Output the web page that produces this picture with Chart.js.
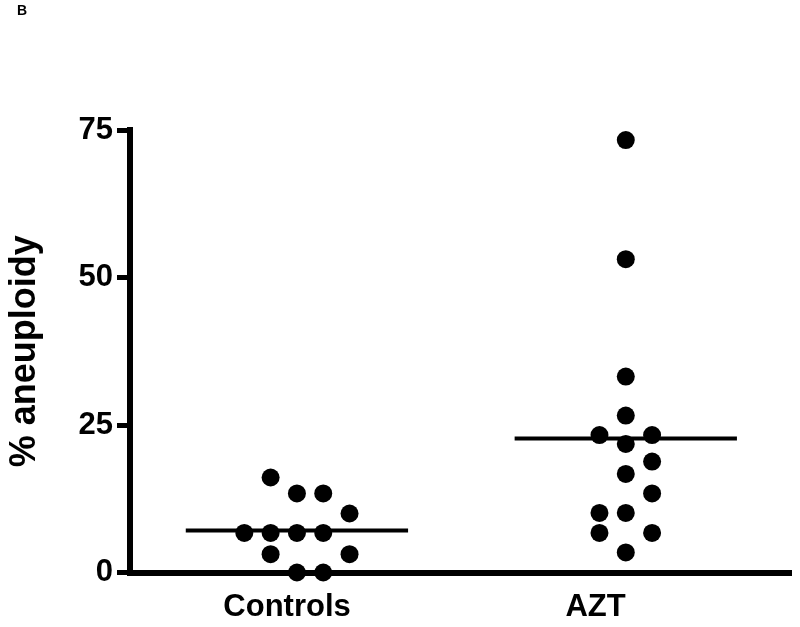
<!DOCTYPE html>
<html>
<head>
<meta charset="utf-8">
<script src="https://cdn.jsdelivr.net/npm/chart.js@4"></script>
<style>
  body { margin: 0; background: #fff; }
  #wrap { position: relative; width: 800px; height: 627px; }
  #panel { position: absolute; left: 17px; top: 2px; font: bold 14px "Liberation Sans", Arial, sans-serif; color: #000; }
</style>
</head>
<body>
<div id="wrap">
  <canvas id="chart" width="800" height="627"></canvas>
  <div id="panel">B</div>
</div>
<script>
// Datos
const categories = ['Controls', 'AZT'];
const yTicks = [0, 25, 50, 75];

const controlsValues = [16.1, 13.4, 13.4, 10.0, 6.7, 6.7, 6.7, 6.7, 3.1, 3.1, 0, 0];
const controlsColumn = [-1, 0, 1, 2, -2, -1, 0, 1, -1, 2, 0, 1];

const aztValues = [73.3, 53.1, 33.2, 26.6, 23.3, 23.3, 21.8, 18.8, 16.7, 13.4, 10.1, 10.1, 6.7, 6.7, 3.4];
const aztColumn = [0, 0, 0, 0, -1, 1, 0, 1, 0, 1, -1, 0, -1, 1, 0];

const medians = [7.1, 22.7];

// Ajustes de la disposición (no son datos)
const columnStep = 0.08;
const medianHalf = 0.338;
const labelPos = [0.97, 1.908];

function toPoints(values, columns, group) {
  return values.map((v, i) => ({ x: group + columns[i] * columnStep, y: v }));
}

const dotStyle = {
  type: 'scatter',
  pointRadius: 9,
  pointHoverRadius: 9,
  pointBackgroundColor: '#000',
  pointBorderWidth: 0,
  clip: false,
  order: 1
};

const medianStyle = {
  type: 'line',
  borderColor: '#000',
  borderWidth: 4,
  pointRadius: 0,
  showLine: true,
  clip: false,
  order: 2
};

const font = '"Liberation Sans", Arial, sans-serif';

new Chart(document.getElementById('chart'), {
  type: 'scatter',
  data: {
    datasets: [
      { ...medianStyle, label: 'Mediana Controls', data: [{ x: 1 - medianHalf, y: medians[0] }, { x: 1 + medianHalf, y: medians[0] }] },
      { ...medianStyle, label: 'Mediana AZT', data: [{ x: 2 - medianHalf, y: medians[1] }, { x: 2 + medianHalf, y: medians[1] }] },
      { ...dotStyle, label: categories[0], data: toPoints(controlsValues, controlsColumn, 1) },
      { ...dotStyle, label: categories[1], data: toPoints(aztValues, aztColumn, 2) }
    ]
  },
  options: {
    responsive: false,
    animation: false,
    layout: { padding: { top: 130, right: 6, bottom: 0, left: 0 } },
    plugins: {
      legend: { display: false },
      tooltip: { enabled: false }
    },
    scales: {
      x: {
        type: 'linear',
        min: 0.4924,
        max: 2.5024,
        afterBuildTicks: (scale) => { scale.ticks = labelPos.map(v => ({ value: v })); },
        afterFit: (scale) => { scale.height = 54.5; },
        grid: { display: false },
        border: { display: true, color: '#000', width: 6 },
        ticks: {
          autoSkip: false,
          maxRotation: 0,
          padding: 8,
          color: '#000',
          font: { family: font, size: 31, weight: 'bold' },
          callback: (value, index) => categories[index]
        }
      },
      y: {
        min: 0,
        max: 75,
        afterBuildTicks: (scale) => { scale.ticks = yTicks.map(v => ({ value: v })); },
        afterFit: (scale) => { scale.width = 130; },
        grid: {
          display: true,
          drawOnChartArea: false,
          drawTicks: true,
          tickLength: 13,
          tickWidth: 5,
          tickColor: '#000'
        },
        border: { display: true, color: '#000', width: 6 },
        ticks: {
          padding: 4,
          color: '#000',
          font: { family: font, size: 31, weight: 'bold' }
        },
        title: {
          display: true,
          text: '% aneuploidy',
          color: '#000',
          padding: { top: 3, bottom: 0 },
          font: { family: font, size: 36, weight: 'bold' }
        }
      }
    }
  }
});
</script>
</body>
</html>
